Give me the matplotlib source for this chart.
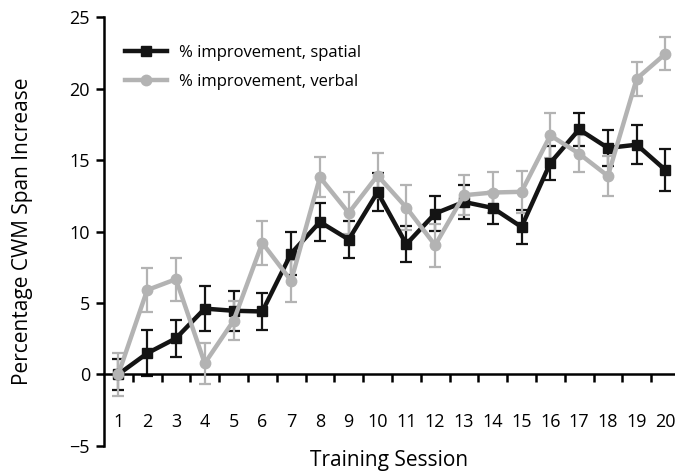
import numpy as np
import matplotlib
matplotlib.use('Agg')
import matplotlib.pyplot as plt

plt.rcParams['font.family'] = ['Open Sans', 'DejaVu Sans']

# sessoes de treino
sessions = list(range(1, 21))

# % melhora espacial
spatial = [0.0, 1.47, 2.52, 4.6, 4.45, 4.4, 8.46, 10.67, 9.44, 12.75,
           9.11, 11.26, 12.07, 11.65, 10.32, 14.8, 17.15, 15.85, 16.08, 14.3]
spatial_err = [1.1, 1.6, 1.3, 1.6, 1.4, 1.3, 1.5, 1.35, 1.3, 1.33,
               1.25, 1.2, 1.2, 1.15, 1.2, 1.2, 1.15, 1.25, 1.35, 1.45]

# % melhora verbal
verbal = [0.0, 5.9, 6.66, 0.77, 3.75, 9.2, 6.55, 13.8, 11.3, 13.92,
          11.68, 9.04, 12.54, 12.73, 12.78, 16.73, 15.45, 13.89, 20.7, 22.45]
verbal_err = [1.5, 1.55, 1.5, 1.45, 1.35, 1.55, 1.47, 1.4, 1.5, 1.58,
              1.6, 1.5, 1.4, 1.44, 1.45, 1.55, 1.28, 1.4, 1.2, 1.15]

fig = plt.figure(figsize=(6.75, 4.73), dpi=100)
ax = fig.add_axes([0.154, 0.0577, 0.846, 0.9057])

black = '#141414'
gray = '#b3b3b3'

# barras de erro (sem legenda)
ax.errorbar(sessions, spatial, yerr=spatial_err, fmt='none', ecolor=black,
            elinewidth=1.6, capsize=4, capthick=1.6, zorder=2)
ax.errorbar(sessions, verbal, yerr=verbal_err, fmt='none', ecolor=gray,
            elinewidth=1.6, capsize=4, capthick=1.6, zorder=3)

# linhas
ax.plot(sessions, spatial, color=black, lw=3.2, marker='s', ms=7.5,
        label='% improvement, spatial', zorder=4)
ax.plot(sessions, verbal, color=gray, lw=3.2, marker='o', ms=7.5,
        label='% improvement, verbal', zorder=5)

ax.set_xlim(0.5, 20.33)
ax.set_ylim(-5, 25)

ax.spines['top'].set_visible(False)
ax.spines['right'].set_visible(False)
ax.spines['bottom'].set_position(('data', 0))
ax.spines['left'].set_linewidth(1.8)
ax.spines['bottom'].set_linewidth(1.8)

ax.set_yticks([-5, 0, 5, 10, 15, 20, 25])
ax.set_yticklabels(['\u22125', '0', '5', '10', '15', '20', '25'])
ax.tick_params(axis='y', direction='out', length=6, width=1.8, labelsize=13, pad=4)

ax.set_xticks(sessions)
ax.set_xticks(np.arange(1.5, 20, 1), minor=True)
ax.tick_params(axis='x', which='major', length=0, labelsize=13, pad=28)
ax.tick_params(axis='x', which='minor', direction='out', length=6, width=1.8)

ax.set_ylabel('Percentage CWM Span Increase', fontsize=15)
ax.yaxis.set_label_coords(-0.124, 0.5)
ax.set_xlabel('Training Session', fontsize=15)
ax.xaxis.set_label_coords(0.5, -0.01)

leg = ax.legend(loc='upper left', bbox_to_anchor=(0.185, 0.905),
                bbox_transform=fig.transFigure, frameon=False,
                fontsize=12, handlelength=2.5, handletextpad=0.75,
                labelspacing=0.8, borderpad=0, borderaxespad=0)

fig.savefig('out.png', dpi=100)
